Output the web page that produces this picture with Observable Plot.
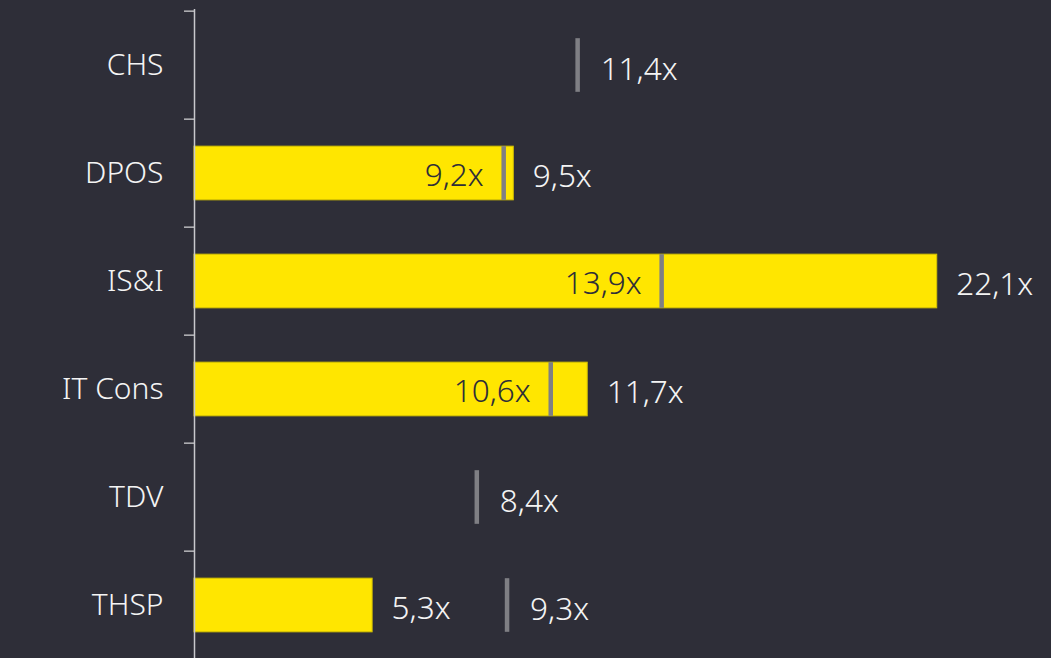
<!DOCTYPE html>
<html>
<head>
<meta charset="utf-8">
<script src="https://cdn.jsdelivr.net/npm/d3@7"></script>
<script src="https://cdn.jsdelivr.net/npm/@observablehq/plot@0.6"></script>
<style>
  html, body { margin: 0; padding: 0; background: #2e2e38; overflow: hidden; }
  #chart svg { display: block; }
</style>
</head>
<body>
<div id="chart"></div>
<script>
const categories = ["CHS", "DPOS", "IS&I", "IT Cons", "TDV", "THSP"];
const barValues = [null, 9.5, 22.1, 11.7, null, 5.3];
const markerValues = [11.4, 9.2, 13.9, 10.6, 8.4, 9.3];

const rows = categories.map((c, i) => ({cat: c, bar: barValues[i], marker: markerValues[i]}));
const fmt = v => v.toFixed(1).replace(".", ",") + "x";

const H = 661, MT = 9, MB = 0;
const step = (H - MT - MB) / categories.length;
const inset = step * 0.25;

const bars = rows.filter(d => d.bar != null);
const inside = rows.filter(d => d.bar != null && d.marker < d.bar);
const outside = rows.filter(d => !(d.bar != null && d.marker < d.bar));

const chart = Plot.plot({
  width: 1051,
  height: H,
  marginTop: MT,
  marginBottom: MB,
  marginLeft: 194,
  marginRight: 0,
  style: {background: "#2e2e38", fontFamily: "'Noto Sans', sans-serif", fontSize: "30px", color: "#ffffff", fontWeight: 300},
  x: {domain: [0, 25.5], axis: null},
  y: {domain: categories, padding: 0, label: null},
  marks: [
    Plot.axisY({tickSize: 10, text: null, stroke: "#b8b8bc", strokeWidth: 1.5, dy: -step / 2}),
    Plot.axisY({tickSize: 0, tickPadding: 31, fontSize: 30, fill: "#f4f4f4", label: null}),
    Plot.barX(bars, {y: "cat", x: "bar", fill: "#ffe600", stroke: "#d6c300", strokeWidth: 1, insetTop: inset, insetBottom: inset}),
    Plot.tickX(rows, {y: "cat", x: "marker", stroke: "#7f7f84", strokeWidth: 4.5, insetTop: inset, insetBottom: inset}),
    Plot.ruleX([0], {stroke: "#c8c8cc", strokeWidth: 1.5}),
    Plot.text(bars, {y: "cat", x: "bar", text: d => fmt(d.bar), textAnchor: "start", dx: 19, dy: 3, fill: "#f4f4f4", fontSize: 31.5, letterSpacing: 0.5}),
    Plot.text(inside, {y: "cat", x: "marker", text: d => fmt(d.marker), textAnchor: "end", dx: -20, dy: 2, fill: "#2e2e38", fontSize: 31.5, letterSpacing: 0.5}),
    Plot.text(outside, {y: "cat", x: "marker", text: d => fmt(d.marker), textAnchor: "start", dx: 23, dy: 4, fill: "#f4f4f4", fontSize: 31.5, letterSpacing: 0.5})
  ]
});
document.getElementById("chart").appendChild(chart);
</script>
</body>
</html>
